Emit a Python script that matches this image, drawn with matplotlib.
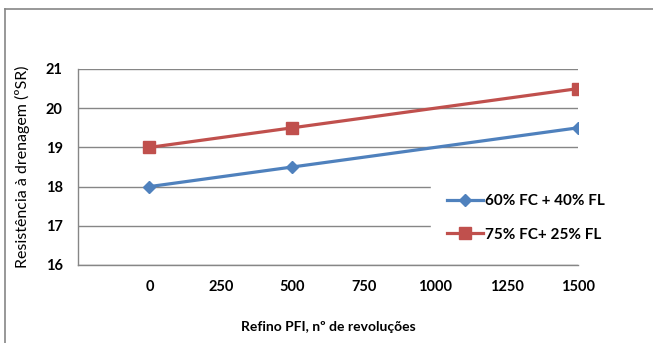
import matplotlib
matplotlib.use("Agg")
import matplotlib.pyplot as plt
from matplotlib.lines import Line2D

# refining revolutions (PFI) and drainage resistance (ºSR)
revolucoes = [0, 500, 1500]
sr_60_40 = [18.0, 18.5, 19.5]
sr_75_25 = [19.0, 19.5, 20.5]
x_ticks = [0, 250, 500, 750, 1000, 1250, 1500]
y_ticks = [16, 17, 18, 19, 20, 21]

azul = "#4F81BD"
vermelho = "#C0504D"
cinza = "#868686"

plt.rcParams["font.family"] = ["Lato", "DejaVu Sans"]

fig = plt.figure(figsize=(6.53, 3.43), dpi=100)
ax = fig.add_axes([78 / 653, 78 / 343, 500 / 653, 196 / 343])

ax.plot(revolucoes, sr_60_40, color=azul, lw=2.3, marker="D", ms=6,
        label="60% FC + 40% FL")
ax.plot(revolucoes, sr_75_25, color=vermelho, lw=2.3, marker="s", ms=9,
        label="75% FC+ 25% FL")

ax.set_xlim(-250, 1500)
ax.set_ylim(16, 21)
ax.set_xticks(x_ticks)
ax.set_yticks(y_ticks)
ax.tick_params(length=0, labelsize=10.5, pad=11)
for t in ax.get_xticklabels() + ax.get_yticklabels():
    t.set_fontweight("bold")

ax.grid(axis="y", color=cinza, lw=1)
ax.set_axisbelow(True)
for s in ["top", "right"]:
    ax.spines[s].set_visible(False)
for s in ["left", "bottom"]:
    ax.spines[s].set_color(cinza)
    ax.spines[s].set_linewidth(1)

ax.set_ylabel("Resistência à drenagem (ºSR)", fontsize=11.5, labelpad=11)
ax.set_xlabel("Refino PFI, nº de revoluções", fontsize=10, fontweight="bold",
              labelpad=19)

leg = ax.legend(loc="center", bbox_to_anchor=(0.895, 0.24), frameon=True,
                fontsize=11, handlelength=2.4, labelspacing=1.25,
                borderpad=1.0, handletextpad=0.1)
leg.get_frame().set_edgecolor("white")
leg.get_frame().set_alpha(1)
for t in leg.get_texts():
    t.set_fontweight("bold")

# chart area border (only top and left edges remain)
fx, fy = 5 / 653, 1 - 9 / 343
fig.add_artist(Line2D([fx, 1], [fy, fy], color=cinza, lw=1.2))
fig.add_artist(Line2D([fx, fx], [0, fy], color=cinza, lw=1.2))

fig.savefig("out.png", dpi=100)
